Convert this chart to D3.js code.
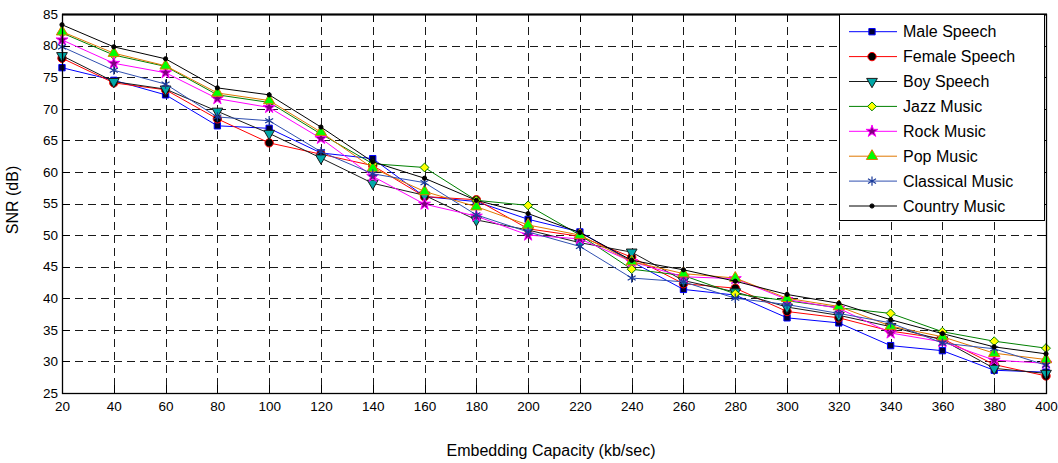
<!DOCTYPE html>
<html>
<head>
<meta charset="utf-8">
<script src="https://cdn.jsdelivr.net/npm/d3@7/dist/d3.min.js"></script>
<style>
  html, body { margin: 0; padding: 0; background: #fff; }
  svg { display: block; font-family: "Liberation Sans", Arial, Helvetica, sans-serif; }
</style>
</head>
<body>
<svg id="chart" width="1058" height="463"></svg>
<script>
// Embedding capacity (kb/sec)
const capacity = [20, 40, 60, 80, 100, 120, 140, 160, 180, 200, 220, 240, 260, 280, 300, 320, 340, 360, 380, 400];

// SNR (dB) per audio type
const maleSpeech      = [76.5, 74.5, 72.2, 67.3, 66.9, 63.0, 62.1, 56.1, 55.3, 52.5, 50.5, 45.8, 41.4, 40.5, 36.9, 36.1, 32.5, 31.7, 28.6, 28.3];
const femaleSpeech    = [78.0, 74.1, 73.0, 68.4, 64.6, 62.8, 61.0, 56.1, 55.6, 51.0, 49.8, 46.5, 42.3, 41.6, 37.9, 36.9, 34.8, 33.6, 29.5, 27.7];
const boySpeech       = [78.4, 74.3, 73.1, 69.6, 66.1, 62.2, 58.2, 56.3, 52.4, 50.8, 48.8, 47.3, 42.8, 41.0, 38.6, 37.3, 35.5, 33.4, 28.9, 28.1];
const jazzMusic       = [82.0, 78.5, 76.7, 72.2, 71.0, 66.0, 61.3, 60.7, 55.5, 54.7, 50.0, 44.6, 43.6, 40.7, 39.6, 38.5, 37.6, 34.7, 33.2, 32.1];
const rockMusic       = [80.9, 77.2, 75.7, 71.6, 70.2, 65.3, 59.3, 54.9, 53.0, 50.0, 49.4, 45.8, 43.4, 43.1, 39.8, 38.4, 34.5, 33.1, 30.2, 29.7];
const popMusic        = [82.2, 78.8, 76.8, 72.5, 71.3, 66.3, 60.6, 56.9, 54.5, 51.6, 50.0, 45.8, 43.9, 43.2, 40.0, 38.7, 35.6, 33.9, 31.3, 30.3];
const classicalMusic  = [79.8, 76.1, 73.9, 68.7, 68.1, 63.2, 59.7, 58.3, 53.2, 50.5, 48.2, 43.2, 42.6, 40.0, 39.0, 37.6, 36.1, 32.9, 32.0, 29.4];
const countryMusic    = [83.3, 79.8, 77.9, 73.3, 72.2, 67.1, 61.6, 59.0, 55.5, 53.4, 50.4, 46.0, 44.5, 42.7, 40.6, 39.2, 36.6, 34.4, 32.3, 31.2];

const seriesNames = ["Male Speech", "Female Speech", "Boy Speech", "Jazz Music", "Rock Music", "Pop Music", "Classical Music", "Country Music"];
const seriesValues = [maleSpeech, femaleSpeech, boySpeech, jazzMusic, rockMusic, popMusic, classicalMusic, countryMusic];

const xTicks = capacity;
const yTicks = [25, 30, 35, 40, 45, 50, 55, 60, 65, 70, 75, 80, 85];

// Line and marker styling for each series
const styles = [
  { line: "#0000ff", shape: "square",   fill: "#000033", stroke: "#0000ff", size: 40 },
  { line: "#ff0000", shape: "circle",   fill: "#000000", stroke: "#ff0000", size: 55 },
  { line: "#1a1a1a", shape: "triDown",  fill: "#00a8a8", stroke: "#1a1a1a", size: 50 },
  { line: "#008000", shape: "diamond",  fill: "#ffff00", stroke: "#008000", size: 50 },
  { line: "#ff00ff", shape: "star",     fill: "#800080", stroke: "#ff00ff", size: 45 },
  { line: "#e07800", shape: "triUp",    fill: "#00ff00", stroke: "#e07800", size: 55 },
  { line: "#3050b0", shape: "asterisk", fill: "none",    stroke: "#1a3a9a", size: 60 },
  { line: "#000000", shape: "dot",      fill: "#000000", stroke: "#000000", size: 14 }
];

const svg = d3.select("#chart");
const plot = { left: 62, right: 1046, top: 14, bottom: 393 };

const x = d3.scaleLinear().domain([20, 400]).range([plot.left, plot.right]);
const y = d3.scaleLinear().domain([25, 85]).range([plot.bottom, plot.top]);

// Dashed grid
const grid = svg.append("g").attr("stroke", "#1a1a1a").attr("stroke-width", 1).attr("stroke-dasharray", "8,5");
grid.selectAll("line.v").data(xTicks.slice(1, -1)).join("line")
  .attr("x1", d => Math.round(x(d)) + 0.5).attr("x2", d => Math.round(x(d)) + 0.5)
  .attr("y1", plot.top).attr("y2", plot.bottom);
grid.selectAll("line.h").data(yTicks.slice(1, -1)).join("line")
  .attr("y1", d => Math.round(y(d)) + 0.5).attr("y2", d => Math.round(y(d)) + 0.5)
  .attr("x1", plot.left).attr("x2", plot.right);

// Axes with inward ticks
const xAxis = svg.append("g").attr("transform", `translate(0,${plot.bottom})`)
  .call(d3.axisBottom(x).tickValues(xTicks).tickFormat(d3.format("d")).tickSize(0).tickPadding(8));
const yAxis = svg.append("g").attr("transform", `translate(${plot.left},0)`)
  .call(d3.axisLeft(y).tickValues(yTicks).tickFormat(d3.format("d")).tickSize(0).tickPadding(4));
[xAxis, yAxis].forEach(a => {
  a.select(".domain").remove();
  a.selectAll("text").attr("font-size", 13.5).attr("fill", "#000")
    .attr("font-family", "'Liberation Sans', Arial, sans-serif");
});

const ticks = svg.append("g").attr("stroke", "#000").attr("stroke-width", 1);
xTicks.forEach(t => {
  const px = Math.round(x(t)) + 0.5;
  ticks.append("line").attr("x1", px).attr("x2", px).attr("y1", plot.bottom).attr("y2", plot.bottom - 8);
  ticks.append("line").attr("x1", px).attr("x2", px).attr("y1", plot.top).attr("y2", plot.top + 8);
});
yTicks.forEach(t => {
  const py = Math.round(y(t)) + 0.5;
  ticks.append("line").attr("y1", py).attr("y2", py).attr("x1", plot.left).attr("x2", plot.left + 8);
  ticks.append("line").attr("y1", py).attr("y2", py).attr("x1", plot.right).attr("x2", plot.right - 8);
});

// Marker symbol factory
function markerPath(shape, size) {
  switch (shape) {
    case "square":   return d3.symbol(d3.symbolSquare, size)();
    case "circle":   return d3.symbol(d3.symbolCircle, size)();
    case "triUp":    return d3.symbol(d3.symbolTriangle, size)();
    case "triDown":  return d3.symbol(d3.symbolTriangle, size)();
    case "diamond":  return d3.symbol(d3.symbolDiamond2, size)();
    case "star":     return d3.symbol(d3.symbolStar, size)();
    case "asterisk": return d3.symbol(d3.symbolAsterisk, size)();
    case "dot":      return d3.symbol(d3.symbolCircle, size)();
  }
}
function drawMarker(g, st, cx, cy) {
  return g.append("path")
    .attr("d", markerPath(st.shape, st.size))
    .attr("transform", `translate(${cx},${cy})` + (st.shape === "triDown" ? " rotate(180)" : ""))
    .attr("fill", st.fill)
    .attr("stroke", st.stroke)
    .attr("stroke-width", st.shape === "asterisk" ? 1.2 : 1);
}

const line = d3.line().x((d, i) => x(capacity[i])).y(d => y(d));

// Series: line then markers, in plotting order
seriesValues.forEach((vals, si) => {
  const st = styles[si];
  const g = svg.append("g").attr("class", "series");
  g.append("path").datum(vals).attr("d", line)
    .attr("fill", "none").attr("stroke", st.line).attr("stroke-width", 1);
  vals.forEach((v, i) => drawMarker(g, st, x(capacity[i]), y(v)));
});

// Axes frame
svg.append("rect")
  .attr("x", plot.left + 0.5).attr("y", plot.top + 0.5)
  .attr("width", plot.right - plot.left).attr("height", plot.bottom - plot.top)
  .attr("fill", "none").attr("stroke", "#000").attr("stroke-width", 1.3);
svg.append("line")
  .attr("x1", plot.left).attr("x2", plot.right + 1).attr("y1", plot.top + 0.5).attr("y2", plot.top + 0.5)
  .attr("stroke", "#000").attr("stroke-width", 2);

// Axis titles
svg.append("text")
  .attr("x", 551).attr("y", 455.5)
  .attr("text-anchor", "middle").attr("font-size", 16).attr("fill", "#000")
  .text("Embedding Capacity (kb/sec)");
svg.append("text")
  .attr("transform", "translate(18,200) rotate(-90)")
  .attr("text-anchor", "middle").attr("font-size", 16).attr("fill", "#000")
  .text("SNR (dB)");

// Legend
const legend = svg.append("g");
legend.append("rect")
  .attr("x", 839.5).attr("y", 14.5).attr("width", 205).attr("height", 206)
  .attr("fill", "#fff").attr("stroke", "#000").attr("stroke-width", 1);
seriesNames.forEach((name, i) => {
  const st = styles[i];
  const cy = 31.7 + i * 24.9;
  legend.append("line").attr("x1", 849).attr("x2", 897).attr("y1", cy).attr("y2", cy)
    .attr("stroke", st.line).attr("stroke-width", 1);
  drawMarker(legend, st, 872, cy);
  legend.append("text").attr("x", 903).attr("y", cy).attr("dy", "0.35em")
    .attr("font-size", 16).attr("fill", "#000").text(name);
});
</script>
</body>
</html>
